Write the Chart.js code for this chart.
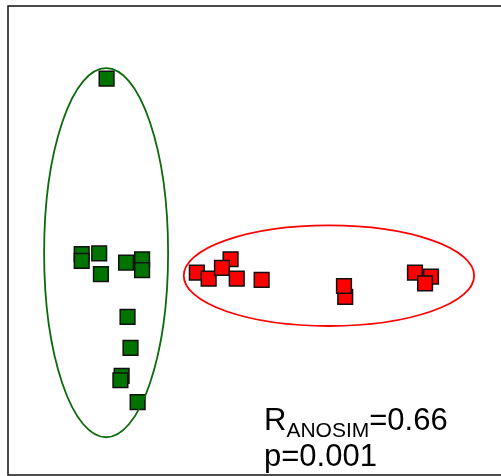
<!DOCTYPE html>
<html>
<head>
<meta charset="utf-8">
<script src="https://cdn.jsdelivr.net/npm/chart.js@4/dist/chart.umd.min.js"></script>
<style>
  html, body { margin: 0; padding: 0; background: #fff; overflow: hidden; }
  #wrap { width: 501px; height: 476px; }
</style>
</head>
<body>
<div id="wrap"><canvas id="c" width="501" height="476"></canvas></div>
<script>
// NMDS ordination coordinates of the samples, by group
const groupA_x = [-0.600, -0.701, -0.701, -0.630, -0.623, -0.521, -0.456, -0.456, -0.515, -0.503, -0.539, -0.544, -0.474];
const groupA_y = [ 0.690, -0.058, -0.087, -0.055, -0.143, -0.094, -0.080, -0.126, -0.326, -0.458, -0.577, -0.596, -0.689];
const groupB_x = [-0.234, -0.186, -0.097, -0.132, -0.072,  0.029,  0.368,  0.363,  0.651,  0.716,  0.692];
const groupB_y = [-0.137, -0.163, -0.080, -0.117, -0.163, -0.168, -0.240, -0.194, -0.137, -0.154, -0.183];

// Group dispersion ellipses: centre x, centre y, radius x, radius y
const ellipseA = [-0.602, -0.052, 0.2515, 0.787];
const ellipseB = [ 0.302, -0.150, 0.589, 0.2145];

// ANOSIM statistics
const anosimR = '0.66';
const anosimP = '0.001';

const toPoints = (xs, ys) => xs.map((x, i) => ({ x, y: ys[i] }));

// Plot frame (open on the right, where the panel continues past the edge)
const framePlugin = {
  id: 'plotFrame',
  beforeDatasetsDraw(chart) {
    const { ctx, chartArea: a } = chart;
    ctx.save();
    ctx.strokeStyle = '#111';
    ctx.lineWidth = 1.5;
    ctx.beginPath();
    ctx.moveTo(a.right + 10, a.top);
    ctx.lineTo(a.left, a.top);
    ctx.lineTo(a.left, a.bottom);
    ctx.lineTo(a.right + 10, a.bottom);
    ctx.stroke();
    ctx.restore();
  }
};

const ellipsePlugin = {
  id: 'groupEllipses',
  afterDatasetsDraw(chart) {
    const { ctx, scales: { x, y } } = chart;
    const draw = (e, color) => {
      const cx = x.getPixelForValue(e[0]);
      const cy = y.getPixelForValue(e[1]);
      const rx = Math.abs(x.getPixelForValue(e[0] + e[2]) - cx);
      const ry = Math.abs(y.getPixelForValue(e[1] + e[3]) - cy);
      ctx.save();
      ctx.beginPath();
      ctx.ellipse(cx, cy, rx, ry, 0, 0, Math.PI * 2);
      ctx.strokeStyle = color;
      ctx.lineWidth = 1.8;
      ctx.stroke();
      ctx.restore();
    };
    draw(ellipseA, '#0b6b0b');
    draw(ellipseB, '#ff0000');
  }
};

const statsPlugin = {
  id: 'anosimText',
  afterDraw(chart) {
    const { ctx } = chart;
    const left = 264;
    ctx.save();
    ctx.fillStyle = '#000';
    ctx.textBaseline = 'alphabetic';
    ctx.textAlign = 'left';
    ctx.font = '31px "Liberation Sans", Arial, sans-serif';
    ctx.fillText('R', left, 430);
    let xPos = left + ctx.measureText('R').width;
    ctx.font = '21px "Liberation Sans", Arial, sans-serif';
    ctx.fillText('ANOSIM', xPos, 437);
    xPos += ctx.measureText('ANOSIM').width;
    ctx.font = '31px "Liberation Sans", Arial, sans-serif';
    ctx.fillText('=' + anosimR, xPos, 430);
    ctx.fillText('p=' + anosimP, left, 466);
    ctx.restore();
  }
};

const hiddenAxis = () => ({ type: 'linear', min: -1, max: 1, display: false });

const squareStyle = {
  pointStyle: 'rect',
  pointRadius: 10.4,
  pointHoverRadius: 10.4,
  borderColor: '#111',
  borderWidth: 1.5
};

new Chart(document.getElementById('c'), {
  type: 'scatter',
  data: {
    datasets: [
      Object.assign({ label: 'Group A', data: toPoints(groupA_x, groupA_y), backgroundColor: '#007300' }, squareStyle),
      Object.assign({ label: 'Group B', data: toPoints(groupB_x, groupB_y), backgroundColor: '#ff0000' }, squareStyle)
    ]
  },
  options: {
    responsive: false,
    animation: false,
    events: [],
    layout: { autoPadding: false, padding: { left: 8, top: 6, right: 0, bottom: 1 } },
    plugins: { legend: { display: false }, tooltip: { enabled: false } },
    scales: { x: hiddenAxis(), y: hiddenAxis() }
  },
  plugins: [framePlugin, ellipsePlugin, statsPlugin]
});
</script>
</body>
</html>
